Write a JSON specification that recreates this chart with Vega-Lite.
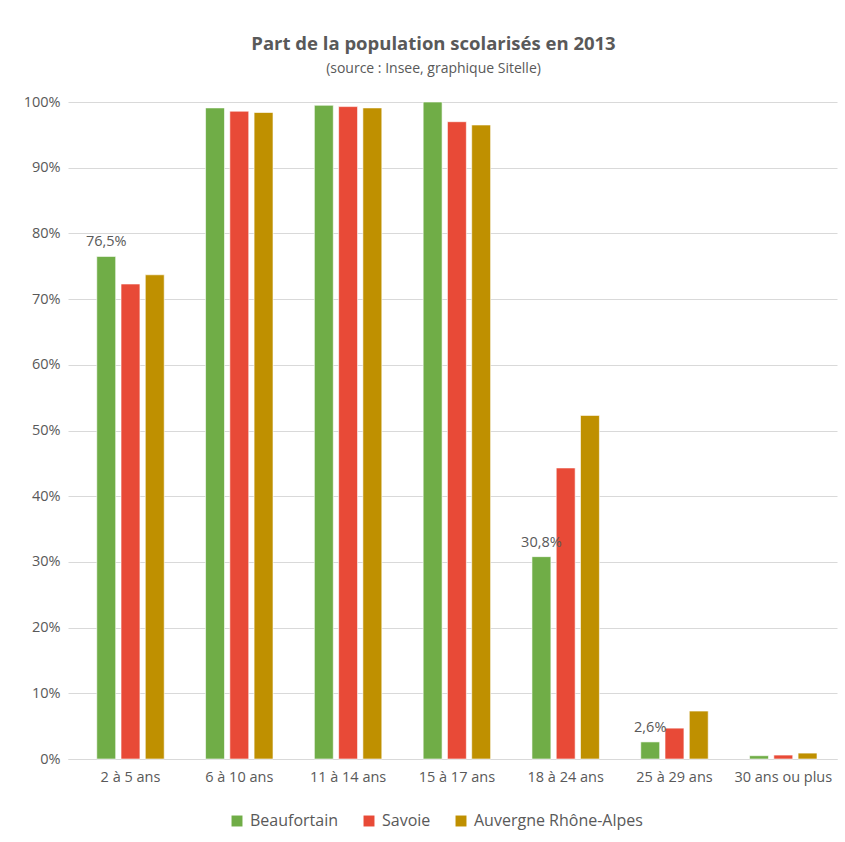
{
  "$schema": "https://vega.github.io/schema/vega-lite/v6.json",
  "width": 769,
  "height": 657,
  "autosize": {"type": "none"},
  "padding": {"left": 68, "top": 102, "right": 8, "bottom": 83},
  "background": "white",
  "title": {
    "text": "Part de la population scolarisés en 2013",
    "subtitle": "(source : Insee, graphique Sitelle)",
    "anchor": "middle",
    "frame": "group",
    "dx": -19,
    "offset": 18,
    "font": "Open Sans",
    "fontSize": 18.5,
    "fontWeight": "bold",
    "color": "#595959",
    "subtitleFont": "Open Sans",
    "subtitleFontSize": 14,
    "subtitleColor": "#595959",
    "subtitlePadding": 9
  },
  "data": {
    "values": [
      {"age": "2 à 5 ans", "zone": "Beaufortain", "value": 0.765, "label": true},
      {"age": "2 à 5 ans", "zone": "Savoie", "value": 0.723, "label": false},
      {"age": "2 à 5 ans", "zone": "Auvergne Rhône-Alpes", "value": 0.737, "label": false},
      {"age": "6 à 10 ans", "zone": "Beaufortain", "value": 0.991, "label": false},
      {"age": "6 à 10 ans", "zone": "Savoie", "value": 0.986, "label": false},
      {"age": "6 à 10 ans", "zone": "Auvergne Rhône-Alpes", "value": 0.984, "label": false},
      {"age": "11 à 14 ans", "zone": "Beaufortain", "value": 0.995, "label": false},
      {"age": "11 à 14 ans", "zone": "Savoie", "value": 0.993, "label": false},
      {"age": "11 à 14 ans", "zone": "Auvergne Rhône-Alpes", "value": 0.991, "label": false},
      {"age": "15 à 17 ans", "zone": "Beaufortain", "value": 1.0, "label": false},
      {"age": "15 à 17 ans", "zone": "Savoie", "value": 0.970, "label": false},
      {"age": "15 à 17 ans", "zone": "Auvergne Rhône-Alpes", "value": 0.965, "label": false},
      {"age": "18 à 24 ans", "zone": "Beaufortain", "value": 0.308, "label": true},
      {"age": "18 à 24 ans", "zone": "Savoie", "value": 0.443, "label": false},
      {"age": "18 à 24 ans", "zone": "Auvergne Rhône-Alpes", "value": 0.523, "label": false},
      {"age": "25 à 29 ans", "zone": "Beaufortain", "value": 0.026, "label": true},
      {"age": "25 à 29 ans", "zone": "Savoie", "value": 0.047, "label": false},
      {"age": "25 à 29 ans", "zone": "Auvergne Rhône-Alpes", "value": 0.073, "label": false},
      {"age": "30 ans ou plus", "zone": "Beaufortain", "value": 0.005, "label": false},
      {"age": "30 ans ou plus", "zone": "Savoie", "value": 0.006, "label": false},
      {"age": "30 ans ou plus", "zone": "Auvergne Rhône-Alpes", "value": 0.009, "label": false}
    ]
  },
  "encoding": {
    "x": {
      "field": "age",
      "type": "nominal",
      "sort": null,
      "scale": {"paddingInner": 0.38, "paddingOuter": 0.224, "align": 0.59},
      "axis": {
        "title": null,
        "labelAngle": 0,
        "ticks": false,
        "domain": true,
        "domainColor": "#d9d9d9",
        "labelFont": "Open Sans",
        "labelFontSize": 14.5,
        "labelColor": "#595959",
        "labelPadding": 11,
        "labelOverlap": false
      }
    },
    "xOffset": {
      "field": "zone",
      "type": "nominal",
      "sort": ["Beaufortain", "Savoie", "Auvergne Rhône-Alpes"],
      "scale": {"paddingInner": 0.22}
    },
    "y": {
      "field": "value",
      "type": "quantitative",
      "scale": {"domain": [0, 1]},
      "axis": {
        "title": null,
        "format": ".0%",
        "values": [0, 0.1, 0.2, 0.3, 0.4, 0.5, 0.6, 0.7, 0.8, 0.9, 1.0],
        "labelOverlap": false,
        "domain": false,
        "ticks": false,
        "gridColor": "#d9d9d9",
        "labelFont": "Open Sans",
        "labelFontSize": 14.5,
        "labelColor": "#595959",
        "labelPadding": 8
      }
    }
  },
  "layer": [
    {
      "mark": {"type": "bar", "stroke": "white", "strokeOpacity": 0.6, "strokeWidth": 1},
      "encoding": {
        "color": {
          "field": "zone",
          "type": "nominal",
          "sort": ["Beaufortain", "Savoie", "Auvergne Rhône-Alpes"],
          "scale": {
            "domain": ["Beaufortain", "Savoie", "Auvergne Rhône-Alpes"],
            "range": ["#70AD47", "#E84A37", "#BF9000"]
          },
          "legend": {
            "title": null,
            "orient": "none",
            "legendX": 161,
            "legendY": 711,
            "direction": "horizontal",
            "symbolType": "square",
            "symbolSize": 120,
            "symbolStrokeWidth": 0,
            "labelFont": "Open Sans",
            "labelFontSize": 16,
            "labelColor": "#595959",
            "labelLimit": 400,
            "columnPadding": 22,
            "labelOffset": 5
          }
        }
      }
    },
    {
      "transform": [{"filter": "datum.label"}],
      "mark": {
        "type": "text",
        "baseline": "bottom",
        "dy": -7,
        "font": "Open Sans",
        "fontSize": 14.5,
        "color": "#595959"
      },
      "encoding": {
        "text": {"field": "value", "type": "quantitative", "format": ".1%"}
      }
    }
  ],
  "config": {
    "view": {"stroke": null},
    "locale": {
      "number": {
        "decimal": ",",
        "thousands": " ",
        "grouping": [3],
        "currency": ["", " €"],
        "percent": "%"
      }
    }
  }
}
